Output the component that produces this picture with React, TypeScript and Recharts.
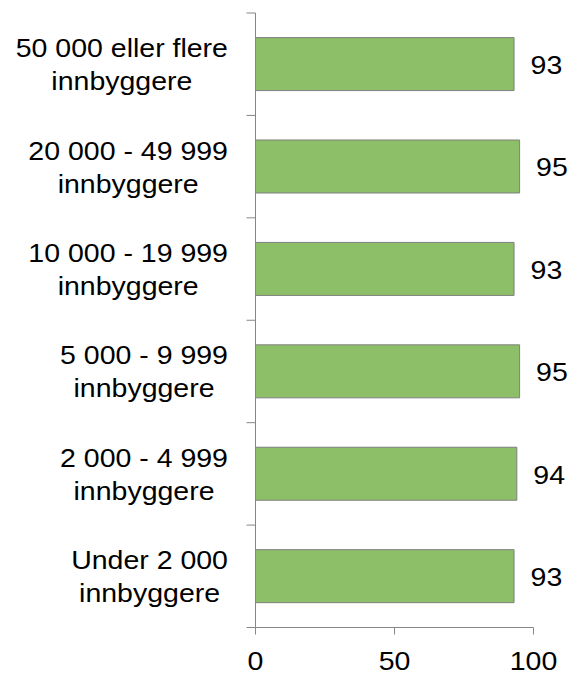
import { Bar, BarChart, LabelList, XAxis, YAxis } from "recharts";

const categories = [
  "50 000 eller flere\ninnbyggere",
  "20 000 - 49 999\ninnbyggere",
  "10 000 - 19 999\ninnbyggere",
  "5 000 - 9 999\ninnbyggere",
  "2 000 - 4 999\ninnbyggere",
  "Under 2 000\ninnbyggere",
];
const values = [93, 95, 93, 95, 94, 93];
const xTicks = [0, 50, 100];

const data = categories.map((name, i) => ({ name, value: values[i] }));

const W = 569;
const H = 674;
const PLOT_LEFT = 255.5;
const PLOT_TOP = 13;
const PLOT_BOTTOM = 627.5;
const BAND = (PLOT_BOTTOM - PLOT_TOP) / categories.length;
const FONT = "'Liberation Sans', Arial, sans-serif";
const FS = 25;
const SX = 1.14;
const AXIS = "#868686";

let ctx: CanvasRenderingContext2D | null = null;
function textWidth(s: string) {
  if (!ctx) ctx = document.createElement("canvas").getContext("2d");
  if (!ctx) return s.length * FS * 0.55;
  ctx.font = `${FS}px ${FONT}`;
  return ctx.measureText(s).width * SX;
}

function ScaledText({ x, y, text, anchor }: { x: number; y: number; text: string; anchor: "start" | "middle" }) {
  return (
    <text
      transform={`translate(${x},${y}) scale(${SX},1)`}
      x={0}
      y={0}
      textAnchor={anchor}
      fontSize={FS}
      fontFamily={FONT}
      fill="#000"
    >
      {text}
    </text>
  );
}

function CategoryTick(props: any) {
  const { y, payload, index } = props;
  const lines: string[] = String(payload.value).split("\n");
  const maxW = Math.max(...lines.map(textWidth));
  const cx = PLOT_LEFT - 27.5 - maxW / 2;
  const top = y - BAND / 2;
  return (
    <g>
      <line x1={PLOT_LEFT - 9} x2={PLOT_LEFT} y1={top} y2={top} stroke={AXIS} />
      {index === categories.length - 1 && (
        <line x1={PLOT_LEFT - 9} x2={PLOT_LEFT} y1={y + BAND / 2} y2={y + BAND / 2} stroke={AXIS} />
      )}
      {lines.map((l, i) => (
        <ScaledText key={i} x={cx} y={y - 7 + i * 33} text={l} anchor="middle" />
      ))}
    </g>
  );
}

function ValueTick(props: any) {
  const { x, y, payload } = props;
  return <ScaledText x={x} y={y + 33} text={String(payload.value)} anchor="middle" />;
}

function ValueLabel(props: any) {
  const { x, y, width, height, value } = props;
  return <ScaledText x={x + width + 16.5} y={y + height / 2 + 10} text={String(value)} anchor="start" />;
}

export default function App() {
  return (
    <div style={{ position: "absolute", left: 0, top: 0 }}>
      <BarChart
        width={W}
        height={H}
        data={data}
        layout="vertical"
        margin={{ top: PLOT_TOP, right: W - 533.5, left: 0, bottom: 0 }}
        barCategoryGap="24%"
      >
        <XAxis
          type="number"
          domain={[0, 100]}
          ticks={xTicks}
          height={H - PLOT_BOTTOM}
          axisLine={{ stroke: AXIS }}
          tickLine={{ stroke: AXIS }}
          tickSize={7}
          tick={<ValueTick />}
        />
        <YAxis
          type="category"
          dataKey="name"
          width={PLOT_LEFT}
          axisLine={{ stroke: AXIS }}
          tickLine={false}
          tick={<CategoryTick />}
          interval={0}
        />
        <Bar dataKey="value" fill="#8DBE68" stroke="#7F7F7F" strokeWidth={1} isAnimationActive={false}>
          <LabelList dataKey="value" content={<ValueLabel />} />
        </Bar>
      </BarChart>
    </div>
  );
}
